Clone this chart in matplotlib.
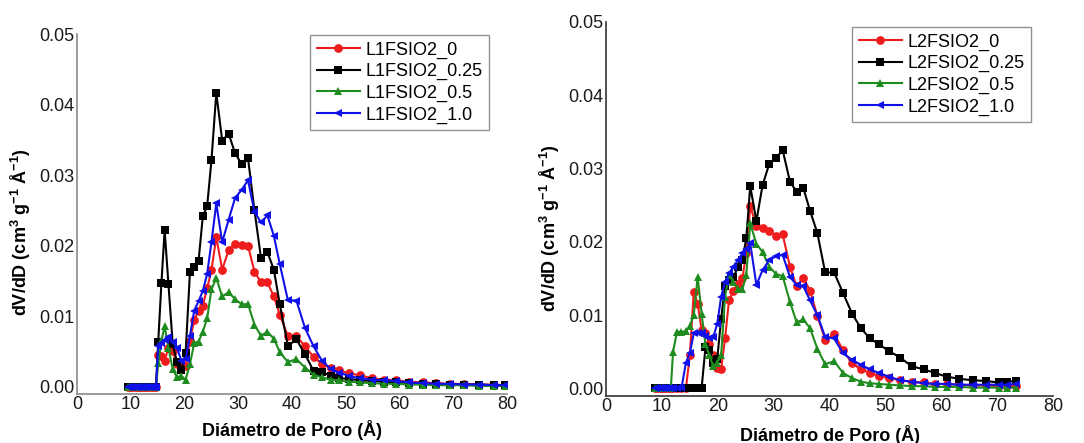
import matplotlib
matplotlib.use("Agg")
import matplotlib.pyplot as plt

# ----------------------------
# data
# ----------------------------
# left panel (L1FSIO2)
xL = [9.5, 9.9, 10.3, 10.7, 11.1, 11.5, 11.9, 12.3, 12.7, 13.1, 13.5, 13.9, 14.3, 14.7,
      15.1, 15.7, 16.3, 17.0, 17.8, 18.6, 19.4, 20.2, 21.0, 21.8, 22.6, 23.4, 24.2, 25.0,
      25.9, 27.0, 28.2, 29.4, 30.6, 31.8, 33.0, 34.2, 35.4, 36.6, 37.7, 39.2, 40.8, 42.4,
      44.0, 45.6, 47.2, 48.8, 50.6, 52.6, 54.8, 57.0, 59.4, 61.8, 64.3, 66.8, 69.4, 72.0,
      74.8, 77.5, 79.5]
L1_0 = [0]*14 + [
    0.0045, 0.0043, 0.0037, 0.0055, 0.0050, 0.0032, 0.0028, 0.0030, 0.0065, 0.0095,
    0.0108, 0.0115, 0.0140, 0.0165, 0.0212, 0.0166, 0.0194, 0.0202, 0.0201, 0.0200,
    0.0163, 0.0148, 0.0148, 0.0128, 0.0102, 0.0072, 0.0072, 0.0057, 0.0042, 0.0032,
    0.0026, 0.0023, 0.0019, 0.0016, 0.0012, 0.0010, 0.0009, 0.0007, 0.0006, 0.0005,
    0.0004, 0.0004, 0.0003, 0.0003, 0.0002]
L1_025 = [0]*14 + [
    0.0063, 0.0147, 0.0222, 0.0146, 0.0060, 0.0035, 0.0023, 0.0048, 0.0162, 0.0170,
    0.0178, 0.0242, 0.0256, 0.0321, 0.0417, 0.0349, 0.0359, 0.0331, 0.0316, 0.0324,
    0.0250, 0.0183, 0.0191, 0.0166, 0.0117, 0.0058, 0.0067, 0.0046, 0.0022, 0.0021,
    0.0015, 0.0012, 0.0011, 0.0009, 0.0008, 0.0007, 0.0006, 0.0005, 0.0004, 0.0004,
    0.0003, 0.0003, 0.0003, 0.0002, 0.0002]
L1_05 = [0]*14 + [
    0.0033, 0.0065, 0.0086, 0.0055, 0.0025, 0.0013, 0.0015, 0.0010, 0.0032, 0.0062,
    0.0064, 0.0078, 0.0097, 0.0138, 0.0154, 0.0128, 0.0134, 0.0124, 0.0117, 0.0117,
    0.0088, 0.0072, 0.0078, 0.0068, 0.0049, 0.0035, 0.0039, 0.0027, 0.0017, 0.0013,
    0.0010, 0.0009, 0.0007, 0.0006, 0.0005, 0.0004, 0.0004, 0.0003, 0.0003, 0.0002,
    0.0002, 0.0002, 0.0001, 0.0001, 0.0001]
L1_10 = [0]*14 + [
    0.0058, 0.0062, 0.0066, 0.0070, 0.0063, 0.0055, 0.0037, 0.0039, 0.0072, 0.0108,
    0.0121, 0.0136, 0.0160, 0.0205, 0.0260, 0.0205, 0.0237, 0.0268, 0.0279, 0.0293,
    0.0248, 0.0233, 0.0243, 0.0214, 0.0174, 0.0123, 0.0122, 0.0083, 0.0057, 0.0036,
    0.0025, 0.0020, 0.0015, 0.0012, 0.0010, 0.0009, 0.0008, 0.0006, 0.0005, 0.0004,
    0.0004, 0.0003, 0.0003, 0.0002, 0.0002]

# right panel (L2FSIO2)
xR = [8.8, 9.2, 9.6, 10.0, 10.4, 10.8, 11.2, 11.6, 12.0, 12.7, 13.5, 14.3, 15.0, 15.7,
      16.4, 17.1, 17.8, 18.5, 19.2, 19.9, 20.6, 21.3, 22.0, 22.8, 23.6, 24.4, 25.1, 25.8,
      26.9, 28.0, 29.2, 30.4, 31.6, 32.9, 34.1, 35.3, 36.5, 37.8, 39.2, 40.8, 42.4, 44.0,
      45.6, 47.2, 48.8, 50.6, 52.6, 54.7, 56.8, 58.8, 60.9, 63.2, 65.6, 68.0, 70.2, 71.8,
      73.4]
L2_0 = [0]*12 + [
    0.0045, 0.0132, 0.0115, 0.0080, 0.0075, 0.0060, 0.0045, 0.0028, 0.0027, 0.0068,
    0.0120, 0.0133, 0.0142, 0.0150, 0.0185, 0.0248, 0.0222, 0.0218, 0.0215, 0.0208,
    0.0210, 0.0166, 0.0139, 0.0151, 0.0133, 0.0099, 0.0066, 0.0074, 0.0052, 0.0034,
    0.0026, 0.0021, 0.0017, 0.0014, 0.0011, 0.0009, 0.0008, 0.0006, 0.0006, 0.0005,
    0.0004, 0.0004, 0.0003, 0.0003, 0.0003]
L2_025 = [0]*16 + [
    0.0056, 0.0052, 0.0035, 0.0040, 0.0095, 0.0140, 0.0148, 0.0152, 0.0165, 0.0175,
    0.0205, 0.0276, 0.0228, 0.0277, 0.0306, 0.0314, 0.0325, 0.0282, 0.0268, 0.0273,
    0.0242, 0.0212, 0.0158, 0.0158, 0.0130, 0.0102, 0.0082, 0.0068, 0.0060, 0.0051,
    0.0042, 0.0030, 0.0026, 0.0021, 0.0016, 0.0013, 0.0011, 0.0010, 0.0008, 0.0009,
    0.0010]
L2_05 = [0]*8 + [
    0.0050, 0.0077, 0.0077, 0.0078, 0.0085, 0.0100, 0.0152, 0.0102, 0.0060, 0.0045,
    0.0030, 0.0035, 0.0045, 0.0125, 0.0155, 0.0145, 0.0135, 0.0135, 0.0155, 0.0225,
    0.0197, 0.0186, 0.0166, 0.0156, 0.0153, 0.0118, 0.0090, 0.0094, 0.0082, 0.0054,
    0.0033, 0.0037, 0.0021, 0.0014, 0.0009, 0.0007, 0.0006, 0.0005, 0.0004, 0.0003,
    0.0003, 0.0002, 0.0002, 0.0002, 0.0001, 0.0001, 0.0001, 0.0001, 0.0001]
L2_10 = [0]*11 + [
    0.0035, 0.0048, 0.0075, 0.0076, 0.0075, 0.0072, 0.0068, 0.0070, 0.0088, 0.0125,
    0.0145, 0.0157, 0.0166, 0.0175, 0.0184, 0.0190, 0.0198, 0.0141, 0.0161, 0.0175,
    0.0180, 0.0182, 0.0152, 0.0141, 0.0139, 0.0120, 0.0100, 0.0070, 0.0068, 0.0048,
    0.0039, 0.0032, 0.0026, 0.0021, 0.0016, 0.0011, 0.0009, 0.0007, 0.0006, 0.0006,
    0.0005, 0.0005, 0.0005, 0.0005, 0.0005, 0.0006]

labels_L = ["L1FSIO2_0", "L1FSIO2_0.25", "L1FSIO2_0.5", "L1FSIO2_1.0"]
labels_R = ["L2FSIO2_0", "L2FSIO2_0.25", "L2FSIO2_0.5", "L2FSIO2_1.0"]

colors = ["#ee1c1c", "#000000", "#1e8c1e", "#1010e8"]
markers = ["o", "s", "^", "<"]

plt.rcParams["font.family"] = ["Liberation Sans", "DejaVu Sans"]
plt.rcParams["mathtext.fontset"] = "custom"
plt.rcParams["mathtext.rm"] = "Liberation Sans"
plt.rcParams["mathtext.bf"] = "Liberation Sans:bold"

fig = plt.figure(figsize=(10.84, 4.43), dpi=100)
axL = fig.add_axes([0.071, 0.1113, 0.397, 0.8113])
axR = fig.add_axes([0.559, 0.1068, 0.4127, 0.8442])

ylab = r"dV/dD (cm$^{\mathbf{3}}$ g$^{\mathbf{-1}}$ Å$^{\mathbf{-1}}$)"


def draw(ax, x, series, labels, spine_color, anchor):
    for ys, lab, c, m in zip(series, labels, colors, markers):
        ax.plot(x, ys, color=c, marker=m, markersize=6.3, linewidth=1.5,
                markeredgewidth=0, label=lab)
    ax.set_xlim(0, 80)
    ax.set_ylim(-0.001, 0.05)
    ax.set_xticks([0, 10, 20, 30, 40, 50, 60, 70, 80])
    ax.set_yticks([0.0, 0.01, 0.02, 0.03, 0.04, 0.05])
    ax.set_yticklabels(["0.00", "0.01", "0.02", "0.03", "0.04", "0.05"])
    ax.tick_params(length=0, labelsize=13, pad=2, colors="#1a1a1a")
    for s in ["top", "right"]:
        ax.spines[s].set_visible(False)
    for s in ["left", "bottom"]:
        ax.spines[s].set_color(spine_color)
        ax.spines[s].set_linewidth(1.2)
    ax.set_xlabel("Diámetro de Poro (Å)", fontsize=13, fontweight="bold")
    ax.set_ylabel(ylab, fontsize=13, fontweight="bold")
    leg = ax.legend(loc="upper right", bbox_to_anchor=anchor,
                    bbox_transform=fig.transFigure, fontsize=13,
                    frameon=True, fancybox=False, borderaxespad=0,
                    handlelength=2.4, handletextpad=0.3, labelspacing=0.25,
                    borderpad=0.35)
    leg.get_frame().set_edgecolor("#777777")
    leg.get_frame().set_linewidth(1.0)


draw(axL, xL, [L1_0, L1_025, L1_05, L1_10], labels_L, "#8a8a8a", (0.451, 0.921))
draw(axR, xR, [L2_0, L2_025, L2_05, L2_10], labels_R, "#333333", (0.951, 0.939))

axL.yaxis.set_label_coords(-0.102, 0.45)
axL.xaxis.set_label_coords(0.5, -0.073)
axR.yaxis.set_label_coords(-0.098, 0.448)
axR.xaxis.set_label_coords(0.5, -0.078)

fig.savefig("out.png", dpi=100)
